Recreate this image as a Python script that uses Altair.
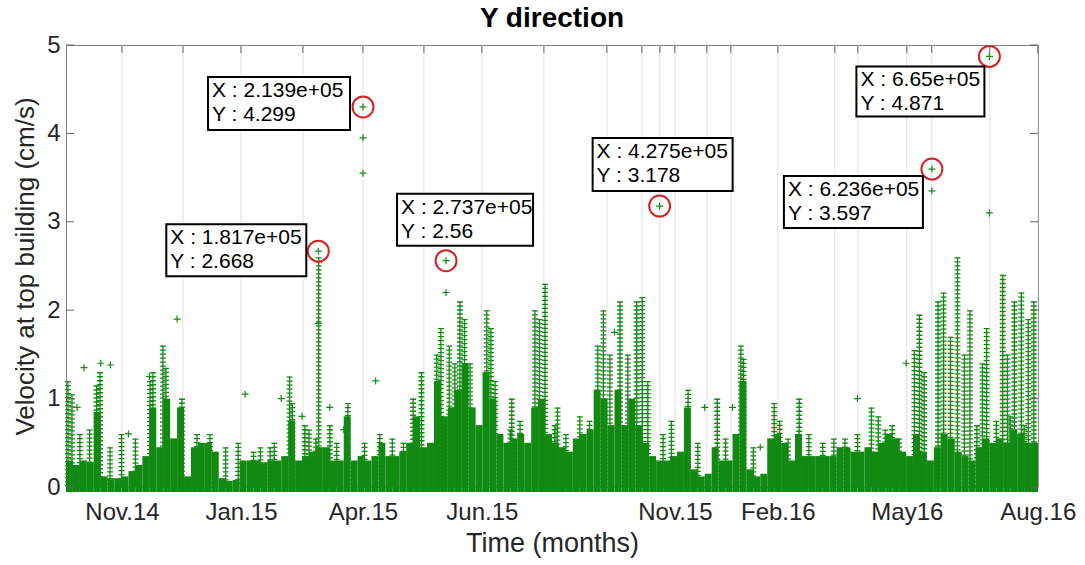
import altair as alt
import numpy as np
import pandas as pd

FONT = "Liberation Sans, Arial, Helvetica, sans-serif"
GREEN = "#128a12"

# ---------------- data ----------------
tick_vals = [40320, 126000, 213840, 299520, 438480, 512640, 605520, 699840]
tick_labels = ["Nov.14", "Jan.15", "Apr.15", "Jun.15", "Nov.15", "Feb.16", "May16", "Aug.16"]
grid_extra = [84240, 170640, 257760, 344160, 389520, 414720, 427680, 461520,
              478800, 553680, 570240, 623520, 665280]
y_ticks = [0, 1, 2, 3, 4, 5]

BIN_W = 5000
dense = [0.3, 0.25, 0.3, 0.28, 0.85, 0.12, 0.1, 0.1, 0.12, 0.18,
         0.25, 0.35, 0.9, 0.45, 1.0, 0.55, 0.9, 0.12, 0.45, 0.5,
         0.5, 0.4, 0.1, 0.07, 0.08, 0.3, 0.3, 0.3, 0.28, 0.3,
         0.3, 0.35, 0.75, 0.3, 0.35, 0.4, 0.45, 0.45, 0.3, 0.3,
         0.8, 0.3, 0.35, 0.3, 0.35, 0.5, 0.35, 0.35, 0.4, 0.5,
         0.8, 0.45, 0.5, 1.2, 0.8, 0.9, 1.1, 1.4, 0.9, 0.7,
         1.3, 1.0, 0.6, 0.5, 0.55, 0.6, 0.5, 0.9, 1.0, 0.6,
         0.5, 0.45, 0.4, 0.55, 0.6, 0.65, 1.1, 1.0, 0.7, 1.1,
         0.7, 1.0, 0.7, 0.5, 0.35, 0.3, 0.3, 0.35, 0.4, 0.9,
         0.2, 0.12, 0.15, 0.45, 0.3, 0.3, 0.6, 1.2, 0.2, 0.12,
         0.15, 0.55, 0.6, 0.5, 0.3, 0.6, 0.35, 0.35, 0.35, 0.35,
         0.35, 0.45, 0.45, 0.4, 0.4, 0.45, 0.4, 0.5, 0.6, 0.55,
         0.4, 0.35, 0.6, 0.4, 0.3, 0.45, 0.6, 0.55, 0.4, 0.35,
         0.3, 0.45, 0.55, 0.5, 0.55, 0.5, 0.65, 0.6, 0.5, 0.5]

# columns of stacked markers (x in thousands of samples, top in cm/s)
spike_x = [1.4, 4.3, 10, 17, 22, 24.5, 31.7, 60.5, 62.6, 69.8, 72, 83.5, 94.3, 103.7,
           124, 147, 161, 163, 172, 175, 182, 190, 203, 226, 250, 256, 267, 270,
           276, 280, 283.7, 287, 291, 303, 306, 309, 321, 327, 337.7, 341, 345, 354,
           370, 383, 387, 391.7, 399, 404.6, 411, 415, 419, 436, 448, 469, 486, 488,
           510, 514, 528, 561, 580, 585, 595, 611, 614.6, 618, 628, 632, 637, 642,
           647, 651, 660, 663, 674.6, 678, 683, 688, 693, 697,
           40, 50, 115, 135, 140, 150, 180, 195, 215, 235, 243, 320, 352, 360, 377,
           430, 455, 475, 495, 520, 535, 545, 553, 570, 590, 600, 656, 670, 680, 690]
spike_top = [1.2, 1.05, 0.6, 0.65, 1.15, 1.3, 0.45, 1.2, 1.3, 1.6, 1.35, 1.0, 0.6, 0.6,
             0.5, 0.45, 1.25, 0.95, 0.7, 0.65, 2.6, 0.7, 0.95, 0.6, 1.0, 1.3, 1.5, 1.8,
             1.6, 1.4, 2.1, 1.9, 1.4, 2.0, 1.8, 1.2, 1.0, 0.75, 2.0, 1.9, 2.3, 0.9,
             0.8, 1.6, 2.0, 1.5, 2.1, 1.5, 2.1, 2.15, 1.2, 0.75, 1.1, 1.0, 1.6, 1.45,
             0.95, 0.75, 1.0, 0.55, 0.9, 0.8, 0.7, 1.55, 1.95, 1.3, 2.1, 2.2, 1.7, 2.6,
             1.5, 2.0, 1.4, 1.8, 2.4, 1.5, 2.1, 2.2, 1.9, 2.1,
             0.6, 0.55, 0.45, 0.4, 0.45, 0.5, 0.55, 0.5, 0.5, 0.55, 0.5, 0.65, 0.7, 0.6, 0.75,
             0.6, 0.5, 0.55, 0.45, 0.55, 0.6, 0.5, 0.55, 0.6, 0.65, 0.55, 0.7, 0.75, 0.8, 0.7]

# isolated markers (x in thousands of samples)
pt_x = [213.9, 213.9, 213.9, 181.7, 181.7, 273.7, 273.7, 427.5, 623.6, 623.6, 665.0, 665.0,
        80, 13, 25, 32, 60, 129, 155, 170, 190, 200, 223, 395, 460, 480, 500, 570, 605, 8, 45]
pt_y = [4.299, 3.95, 3.55, 2.668, 1.85, 2.56, 2.2, 3.178, 3.597, 3.35, 4.871, 3.1,
        1.9, 1.35, 1.4, 1.38, 1.25, 1.05, 1.0, 0.8, 0.9, 0.65, 1.2, 1.75, 0.9, 0.9, 0.45,
        1.0, 1.4, 0.9, 0.6]

# data tips
tip_x = [181700, 213900, 273700, 427500, 623600, 665000]
tip_y = [2.668, 4.299, 2.56, 3.178, 3.597, 4.871]

# ---------------- layout ----------------
W, H = 972, 442
XMAX, YMAX = 700000, 5
sx, sy = W / XMAX, H / YMAX
box_dx0 = [-152, -155, -49, -67, -148, -133]
box_dx1 = [-12, -13, 87, 73, -9, -5]
box_dy0 = [-27, -30, -67, -68, 7, 10]
box_dy1 = [25, 23, -15, -15, 59, 60]

xs = alt.Scale(domain=[0, XMAX], nice=False, zero=False)
ys = alt.Scale(domain=[0, YMAX], nice=False, zero=False)

bins = pd.DataFrame({"x0": np.arange(len(dense)) * BIN_W, "h": dense})
bins["x1"] = bins["x0"] + BIN_W
spikes = pd.DataFrame({"x": np.array(spike_x) * 1000, "top": spike_top})
pts = pd.DataFrame({"x": np.array(pt_x) * 1000, "y": pt_y})
tips = pd.DataFrame({"x": tip_x, "y": tip_y})
tips["bx0"] = tips["x"] + np.array(box_dx0) / sx
tips["bx1"] = tips["x"] + np.array(box_dx1) / sx
tips["by0"] = tips["y"] - np.array(box_dy0) / sy
tips["by1"] = tips["y"] - np.array(box_dy1) / sy
tips["tx"] = tips["bx0"] + 4 / sx
tips["ty"] = tips["by0"] - 3 / sy
tips["label"] = ["X : %.4g\nY : %.4g" % (a, b) for a, b in zip(tip_x, tip_y)]

grid_df = pd.DataFrame({"gx": sorted(tick_vals + grid_extra)})
yt_df = pd.DataFrame({"yv": y_ticks})

label_expr = "".join(f"datum.value == {v} ? '{l}' : " for v, l in zip(tick_vals, tick_labels)) + "''"

xaxis = alt.Axis(values=tick_vals, labelExpr=label_expr, grid=False, ticks=False,
                 domain=False, labelFont=FONT, labelFontSize=24, labelColor="#262626",
                 labelPadding=13, labelFlush=False, labelOverlap=False,
                 title="Time (months)", titleFont=FONT, titleFontSize=27,
                 titleFontWeight="normal", titleColor="#262626", titlePadding=6)
yaxis = alt.Axis(values=y_ticks, grid=False, ticks=False, domain=False,
                 labelFont=FONT, labelFontSize=24, labelColor="#262626", labelPadding=6,
                 title="Velocity at top building (cm/s)", titleFont=FONT, titleFontSize=26,
                 titleFontWeight="normal", titleColor="#262626", titlePadding=8)


def X(f):
    return alt.X(f, scale=xs, axis=xaxis)


def Y(f):
    return alt.Y(f, scale=ys, axis=yaxis)


base = alt.Chart(bins).mark_rect(color=GREEN).encode(
    x=X("x0:Q"), x2="x1", y=Y("h:Q"), y2=alt.value(H + 5))

grid = alt.Chart(grid_df).mark_rule(color="#e2e2e2", strokeWidth=1).encode(
    x=X("gx:Q"), y=alt.value(0), y2=alt.value(H))

spike_line = alt.Chart(spikes).mark_rule(color=GREEN, strokeWidth=1.3).encode(
    x=X("x:Q"), y=Y("top:Q"), y2=alt.value(H))
spike_bars = alt.Chart(spikes).mark_rule(color=GREEN, strokeWidth=6, strokeDash=[1.3, 2.7]).encode(
    x=X("x:Q"), y=Y("top:Q"), y2=alt.value(H))

plus = alt.Chart(pts).mark_point(shape="M-1,0L1,0M0,-1L0,1", filled=False, color=GREEN,
                                 strokeWidth=1.2, size=49, opacity=1).encode(
    x=X("x:Q"), y=Y("y:Q"))

circles = alt.Chart(tips).mark_point(shape="circle", filled=False, color="#d42020",
                                     strokeWidth=2, size=440, opacity=1).encode(
    x=X("x:Q"), y=Y("y:Q"))

boxes = alt.Chart(tips).mark_rect(fill="white", stroke="black", strokeWidth=2).encode(
    x=X("bx0:Q"), x2="bx1", y=Y("by0:Q"), y2="by1")

texts = alt.Chart(tips).mark_text(align="left", baseline="top", font=FONT, fontSize=21,
                                  lineBreak="\n", lineHeight=24, color="black").encode(
    x=X("tx:Q"), y=Y("ty:Q"), text="label:N")

top_ticks = alt.Chart(grid_df).mark_rule(color="#666666").encode(
    x=X("gx:Q"), y=alt.value(0), y2=alt.value(8))
left_ticks = alt.Chart(yt_df).mark_rule(color="#666666").encode(
    y=Y("yv:Q"), x=alt.value(0), x2=alt.value(8))
right_ticks = alt.Chart(yt_df).mark_rule(color="#666666").encode(
    y=Y("yv:Q"), x=alt.value(W - 8), x2=alt.value(W))

chart = alt.layer(grid, base, spike_line, spike_bars, plus, circles, boxes, texts,
                  top_ticks, left_ticks, right_ticks).properties(
    width=W, height=H,
    title=alt.TitleParams("Y direction", font=FONT, fontSize=28, fontWeight="bold",
                          color="black", anchor="middle", offset=0),
    padding={"left": 66, "top": 45, "right": 47, "bottom": 78},
    autosize=alt.AutoSizeParams(type="none"),
).configure_view(stroke="#808080", strokeWidth=1)

chart.save("out.html", embed_options={"renderer": "svg", "actions": False})
